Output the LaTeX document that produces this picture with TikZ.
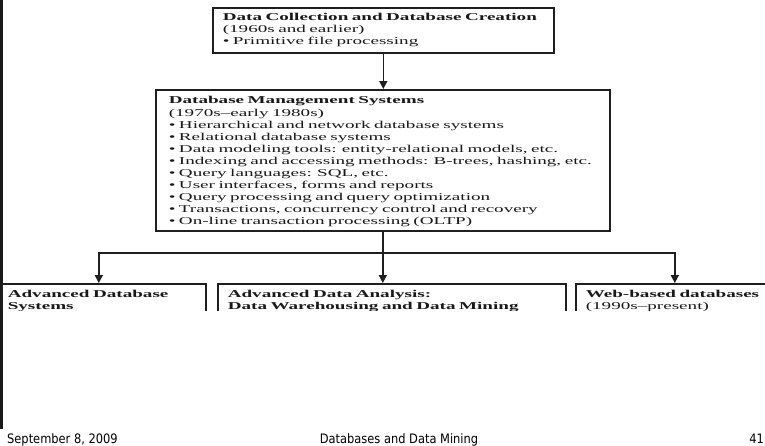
\documentclass[tikz,border=0pt]{standalone}
\usepackage{fontspec}
\setmainfont{Liberation Serif}
\newfontfamily\boxfont[FakeStretch=1.82]{Liberation Serif}
\newfontfamily\footfont[FakeStretch=0.88]{DejaVu Sans}
\usetikzlibrary{arrows.meta}

\begin{document}
\begin{tikzpicture}[x=1pt,y=-1pt,
  box/.style={draw=black!88, line width=1.6pt, rectangle, anchor=north west,
    inner ysep=0pt, align=left, text=black!90,
    font=\boxfont\fontsize{10.5}{12}\selectfont},
  link/.style={draw=black!88, line width=1.6pt,
    -{Triangle[width=8pt,length=8pt]}},
  plain/.style={draw=black!88, line width=1.6pt},
  footer/.style={inner sep=0pt, text=black, font=\footfont\fontsize{13}{15}\selectfont}]

\useasboundingbox (0,0) rectangle (765,445);
\fill[white] (0,0) rectangle (765,445);

% slide frame on the left
\draw[line width=2.5pt, black!90] (1.25,0) -- (1.25,429);

% upper stages
\node[box, inner xsep=10pt, text width=321pt, text height=13pt, text depth=32pt]
  (collect) at (212,7)
  {\textbf{Data Collection and Database Creation}\\
   (1960s and earlier)\\
   • Primitive file processing};

\node[box, inner xsep=13pt, text width=428pt, text height=14pt, text depth=127pt]
  (dbms) at (155,89)
  {\textbf{Database Management Systems}\\[1pt]
   (1970s–early 1980s)\\
   • Hierarchical and network database systems\\
   • Relational database systems\\
   • Data modeling tools: entity-relational models, etc.\\
   \mbox{• Indexing and accessing methods: B-trees, hashing, etc.}\\
   • Query languages: SQL, etc.\\
   • User interfaces, forms and reports\\
   • Query processing and query optimization\\
   • Transactions, concurrency control and recovery\\
   • On-line transaction processing (OLTP)};

% lower stages, cut off at the bottom
\begin{scope}
  \clip (0,0) rectangle (765,310);
  \node[box, inner xsep=6pt, text width=192pt, text height=14pt, text depth=40pt]
    (adv) at (1,283)
    {\textbf{Advanced Database}\\ \textbf{Systems}};
  \node[box, inner xsep=10pt, text width=328pt, text height=14pt, text depth=40pt]
    (ada) at (217,283)
    {\textbf{Advanced Data Analysis:}\\ \mbox{\textbf{Data Warehousing and Data Mining}}};
  \node[box, inner xsep=10pt, text width=178pt, text height=14pt, text depth=40pt]
    (web) at (575,283)
    {\mbox{\textbf{Web-based databases}}\\ (1990s–present)};
\end{scope}

% connectors
\coordinate (hub) at (dbms.south |- 0,253);
\draw[link] (collect.south) -- (collect.south |- dbms.north);
\draw[plain] (dbms.south) -- (hub);
\draw[link] (hub) -- (hub |- ada.north);
\draw[link] (hub) -| ([xshift=-5pt]adv.north);
\draw[link] (hub) -| (web.north);

% footer
\node[footer, anchor=base west] (date) at (7,443) {September 8, 2009};
\node[footer, anchor=base] (course) at (399,443) {Databases and Data Mining};
\node[footer, anchor=base east] (page) at (764,443) {41};
\end{tikzpicture}
\end{document}
